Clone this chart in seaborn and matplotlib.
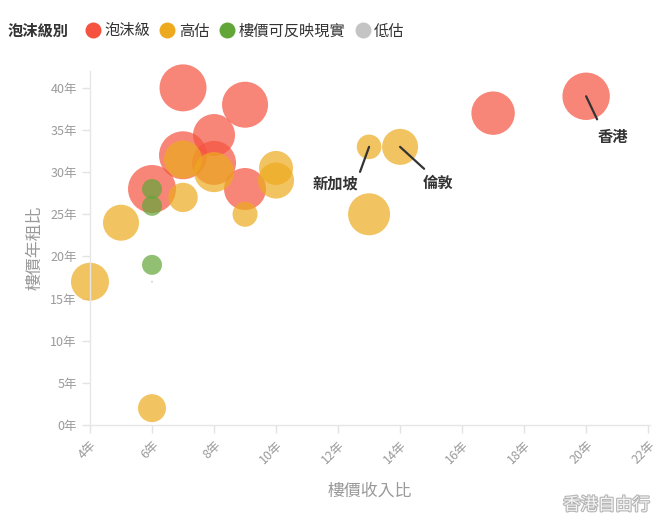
import pandas as pd
import matplotlib.pyplot as plt
import matplotlib.patheffects as pe
from matplotlib.lines import Line2D
import seaborn as sns

# data
level = ["泡沫級"] * 9 + ["高估"] * 12 + ["樓價可反映現實"] * 3 + ["低估"]
price_income = [7, 9, 8, 7, 8, 6, 9, 17, 20,
                7, 8, 10, 10, 7, 9, 5, 4, 6, 13, 14, 13,
                6, 6, 6,
                6]
price_rent = [40, 38, 34.4, 32, 31.1, 28, 28, 37, 39,
              31.5, 30, 30.5, 29, 27, 25, 24, 17, 2, 33, 33, 25,
              28, 26, 19,
              17]
bubble = [23.5, 23, 21, 24, 22, 24, 21, 21.7, 23.7,
          19, 20, 17, 18, 14.7, 12.5, 18, 19, 14, 12.3, 18, 21,
          10, 10, 10,
          1]

df = pd.DataFrame({"level": level, "x": price_income, "y": price_rent, "r": bubble})
df["area"] = df["r"] ** 2

levels = ["泡沫級", "高估", "樓價可反映現實", "低估"]
colors = ["#F5533F", "#EDAA1E", "#62A638", "#C4C4C4"]
palette = dict(zip(levels, colors))

xticks = [4, 6, 8, 10, 12, 14, 16, 18, 20, 22]
yticks = [0, 5, 10, 15, 20, 25, 30, 35, 40]
labels = {"香港": (20, 39), "新加坡": (13, 33), "倫敦": (14, 33)}

sns.set_style("white")
plt.rcParams["font.family"] = ["Noto Sans CJK TC", "DejaVu Sans"]

fig = plt.figure(figsize=(6.58, 5.27), dpi=100)
ax = fig.add_axes([90 / 658, 102 / 527, 560 / 658, 354 / 527])

# area in px^2 -> marker size in pt^2 (diameter^2)
k = (2 * 0.72) ** 2
sizes = {a: k * a for a in df["area"].unique()}
sns.scatterplot(data=df, x="x", y="y", hue="level", hue_order=levels,
                palette=palette, size="area", sizes=sizes, alpha=0.7,
                linewidth=0, legend=False, clip_on=False, ax=ax)

ax.set_xlim(4, 22.06)
ax.set_ylim(0, 42)
ax.set_xticks(xticks)
ax.set_xticklabels([f"{t}年" for t in xticks], rotation=45, ha="right",
                   rotation_mode="anchor")
ax.set_yticks(yticks)
ax.set_yticklabels([f"{t}年" for t in yticks])
ax.tick_params(axis="both", colors="#E3E3E3", labelcolor="#9A9A9A",
               labelsize=9, length=6, width=1, direction="out", bottom=True, left=True)
ax.tick_params(axis="x", pad=4)
for s in ["top", "right"]:
    ax.spines[s].set_visible(False)
for s in ["left", "bottom"]:
    ax.spines[s].set_color("#E6E6E6")
    ax.spines[s].set_linewidth(1)
ax.set_xlabel("樓價收入比", fontsize=12.2, color="#9A9A9A", labelpad=11)
ax.set_ylabel("樓價年租比", fontsize=12.2, color="#9A9A9A", labelpad=5)

# city callouts
offsets = {"香港": ((7.9, -16.6), (19.4, -29.5)),
           "新加坡": ((-6.5, -18), (-24.5, -26.6)),
           "倫敦": ((17.3, -15.8), (27.4, -25.9))}
for name, (px, py) in labels.items():
    line_off, text_off = offsets[name]
    ax.annotate("", xy=(px, py), xytext=line_off, textcoords="offset points",
                arrowprops=dict(arrowstyle="-", color="#333333", lw=1.6,
                                shrinkA=0, shrinkB=0))
    ax.annotate(name, xy=(px, py), xytext=text_off, textcoords="offset points",
                ha="center", va="center", fontsize=11, fontweight="bold",
                color="#333333")

# legend row
fig.text(8 / 658, 1 - 31 / 527, "泡沫級別", fontsize=11, fontweight="bold",
         color="#333333", va="center")
handles = [Line2D([], [], marker="o", linestyle="", markersize=11.5,
                  markerfacecolor=c, markeredgewidth=0) for c in colors]
fig.legend(handles, levels, loc="center left", bbox_to_anchor=(82 / 658, 1 - 31 / 527),
           ncol=4, frameon=False, fontsize=11, handletextpad=0.05,
           columnspacing=0.45, handlelength=1.4, labelcolor="#333333",
           borderaxespad=0, borderpad=0)

# watermark
fig.text(650 / 658, 1 - 505 / 527, "香港自由行", fontsize=12.5, color="#F4F4F4",
         ha="right", va="center",
         path_effects=[pe.withStroke(linewidth=1.6, foreground="#B5B5B5")])

fig.savefig("out.png", dpi=100)
